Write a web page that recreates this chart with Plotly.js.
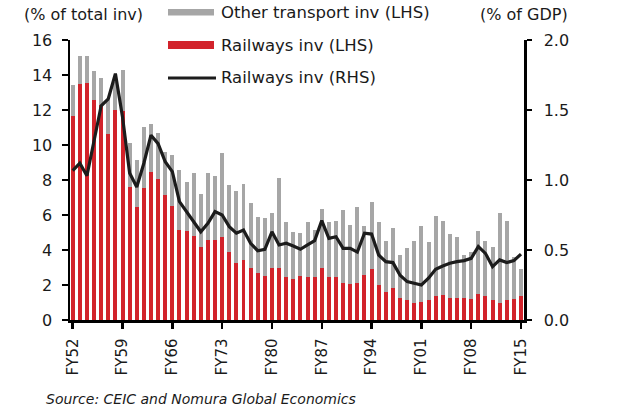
<!DOCTYPE html>
<html>
<head>
<meta charset="utf-8">
<script src="https://cdn.plot.ly/plotly-3.0.1.min.js"></script>
<style>
  html, body { margin: 0; padding: 0; background: #fff; }
  #chart { width: 624px; height: 412px; }
</style>
</head>
<body>
<div id="chart"></div>
<script>
// Fiscal years (categories)
const years = ["FY52","FY53","FY54","FY55","FY56","FY57","FY58","FY59","FY60","FY61",
  "FY62","FY63","FY64","FY65","FY66","FY67","FY68","FY69","FY70","FY71",
  "FY72","FY73","FY74","FY75","FY76","FY77","FY78","FY79","FY80","FY81",
  "FY82","FY83","FY84","FY85","FY86","FY87","FY88","FY89","FY90","FY91",
  "FY92","FY93","FY94","FY95","FY96","FY97","FY98","FY99","FY00","FY01",
  "FY02","FY03","FY04","FY05","FY06","FY07","FY08","FY09","FY10","FY11",
  "FY12","FY13","FY14","FY15"];

// Railways investment, % of total investment (LHS)
const railwaysLHS = [11.66,13.5,13.52,12.6,12.3,10.62,12.0,11.95,7.62,6.44,
  7.52,8.46,8.08,7.14,6.51,5.14,5.07,4.82,4.15,4.57,
  4.57,4.76,3.9,3.28,3.43,2.99,2.67,2.51,3.0,3.0,
  2.48,2.36,2.51,2.48,2.48,3.0,2.48,2.48,2.1,2.04,
  2.1,2.57,2.9,2.0,1.58,1.85,1.24,1.14,0.95,1.05,
  1.14,1.39,1.43,1.28,1.28,1.24,1.18,1.47,1.37,1.14,
  0.95,1.14,1.18,1.39];

// Other transport investment, % of total investment (LHS, stacked on top)
const otherTransportLHS = [1.77,1.6,1.58,1.65,1.55,1.98,1.6,2.35,2.48,2.7,
  3.53,2.72,2.59,2.44,2.9,3.43,2.82,3.6,3.07,3.85,
  3.66,4.76,3.81,4.11,4.34,3.71,3.23,3.3,3.1,5.1,
  3.14,2.69,2.44,3.14,2.66,3.32,3.14,3.2,4.19,3.39,
  4.38,2.8,3.86,3.62,2.95,3.39,2.47,2.96,3.58,4.32,
  3.32,4.55,4.25,3.63,3.44,2.47,2.72,3.63,3.16,3.05,
  5.18,4.52,2.4,1.52];

// Railways investment, % of GDP (RHS)
const railwaysRHS = [1.067,1.12,1.03,1.29,1.53,1.58,1.76,1.45,1.05,0.95,
  1.12,1.32,1.26,1.13,1.06,0.845,0.774,0.70,0.63,0.69,
  0.774,0.75,0.667,0.62,0.643,0.548,0.495,0.505,0.63,0.536,
  0.548,0.529,0.505,0.536,0.567,0.71,0.583,0.595,0.512,0.512,
  0.485,0.62,0.614,0.464,0.417,0.41,0.32,0.274,0.262,0.25,
  0.298,0.362,0.386,0.405,0.417,0.424,0.44,0.524,0.476,0.381,
  0.429,0.41,0.424,0.471];

const xTickLabels = ["FY52","FY59","FY66","FY73","FY80","FY87","FY94","FY01","FY08","FY15"];

const legendLabels = ["Other transport inv (LHS)", "Railways inv (LHS)", "Railways inv (RHS)"];

const FONT = "DejaVu Sans, Liberation Sans, Arial, sans-serif";
const TXT = "#1a1a1a";
const RED = "#d2232b";
const GRAY = "#a6a6a6";
const BLACK = "#1c1c1c";

// plot-area pixel helpers (plot area: x 70..524, y 40..320)
const L = 70, R = 524, T = 40, B = 320;
const px = v => (v - L) / (R - L);
const py = v => (B - v) / (B - T);

const traces = [
  { type: "bar", x: years, y: railwaysLHS, name: legendLabels[1],
    marker: { color: RED, line: { width: 0 } }, width: 0.56, yaxis: "y", hoverinfo: "skip" },
  { type: "bar", x: years, y: otherTransportLHS, name: legendLabels[0],
    marker: { color: GRAY, line: { width: 0 } }, width: 0.56, yaxis: "y", hoverinfo: "skip" },
  { type: "scatter", mode: "lines", x: years, y: railwaysRHS, name: legendLabels[2],
    line: { color: BLACK, width: 3.2 }, yaxis: "y2", hoverinfo: "skip" }
];

const layout = {
  width: 624, height: 412,
  margin: { l: L, r: 624 - R, t: T, b: 412 - B, pad: 0 },
  paper_bgcolor: "#fff", plot_bgcolor: "#fff",
  barmode: "stack",
  showlegend: false,
  font: { family: FONT, size: 16, color: TXT },
  xaxis: {
    type: "category",
    range: [-0.38, 63.42],
    tickmode: "array", tickvals: xTickLabels, ticktext: xTickLabels,
    tickangle: -90,
    ticks: "outside", ticklen: 6, tickwidth: 2.5, tickcolor: "#000",
    showline: true, linecolor: "#000", linewidth: 2.5,
    showgrid: false, zeroline: false,
    tickfont: { family: FONT, size: 15, color: TXT },
    ticklabelstandoff: 4
  },
  yaxis: {
    range: [0, 16], dtick: 2, tick0: 0,
    ticks: "outside", ticklen: 6, tickwidth: 2.5, tickcolor: "#000",
    showline: true, linecolor: "#000", linewidth: 2.5,
    showgrid: false, zeroline: false,
    tickfont: { family: FONT, size: 16, color: TXT },
    ticklabelstandoff: 6
  },
  yaxis2: {
    overlaying: "y", side: "right",
    range: [0, 2], dtick: 0.5, tick0: 0, tickformat: ".1f",
    ticks: "outside", ticklen: 5, tickwidth: 2.5, tickcolor: "#000",
    showline: true, linecolor: "#000", linewidth: 2.5,
    showgrid: false, zeroline: false,
    tickfont: { family: FONT, size: 16, color: TXT },
    ticklabelstandoff: 9
  },
  shapes: [
    { type: "rect", xref: "paper", yref: "paper",
      x0: px(168), x1: px(214), y0: py(15.5), y1: py(9),
      fillcolor: GRAY, line: { width: 0 } },
    { type: "rect", xref: "paper", yref: "paper",
      x0: px(168), x1: px(214), y0: py(49), y1: py(41),
      fillcolor: RED, line: { width: 0 } },
    { type: "line", xref: "paper", yref: "paper",
      x0: px(168), x1: px(216), y0: py(78), y1: py(78),
      line: { color: BLACK, width: 3.2 } }
  ],
  annotations: [
    { text: "(% of total inv)", xref: "paper", yref: "paper", x: px(83), y: py(14),
      xanchor: "center", yanchor: "middle", showarrow: false,
      font: { family: FONT, size: 16, color: TXT } },
    { text: "(% of GDP)", xref: "paper", yref: "paper", x: px(524), y: py(14),
      xanchor: "center", yanchor: "middle", showarrow: false,
      font: { family: FONT, size: 16, color: TXT } },
    { text: legendLabels[0], xref: "paper", yref: "paper", x: px(219), y: py(12.5),
      xanchor: "left", yanchor: "middle", showarrow: false,
      font: { family: FONT, size: 16.5, color: TXT } },
    { text: legendLabels[1], xref: "paper", yref: "paper", x: px(219), y: py(45),
      xanchor: "left", yanchor: "middle", showarrow: false,
      font: { family: FONT, size: 16.5, color: TXT } },
    { text: legendLabels[2], xref: "paper", yref: "paper", x: px(219), y: py(78),
      xanchor: "left", yanchor: "middle", showarrow: false,
      font: { family: FONT, size: 16.5, color: TXT } },
    { text: "<i>Source: CEIC and Nomura Global Economics</i>", xref: "paper", yref: "paper",
      x: px(44), y: py(399), xanchor: "left", yanchor: "middle", showarrow: false,
      font: { family: FONT, size: 14, color: TXT } }
  ]
};

Plotly.newPlot("chart", traces, layout, { displayModeBar: false, staticPlot: true });
</script>
</body>
</html>
